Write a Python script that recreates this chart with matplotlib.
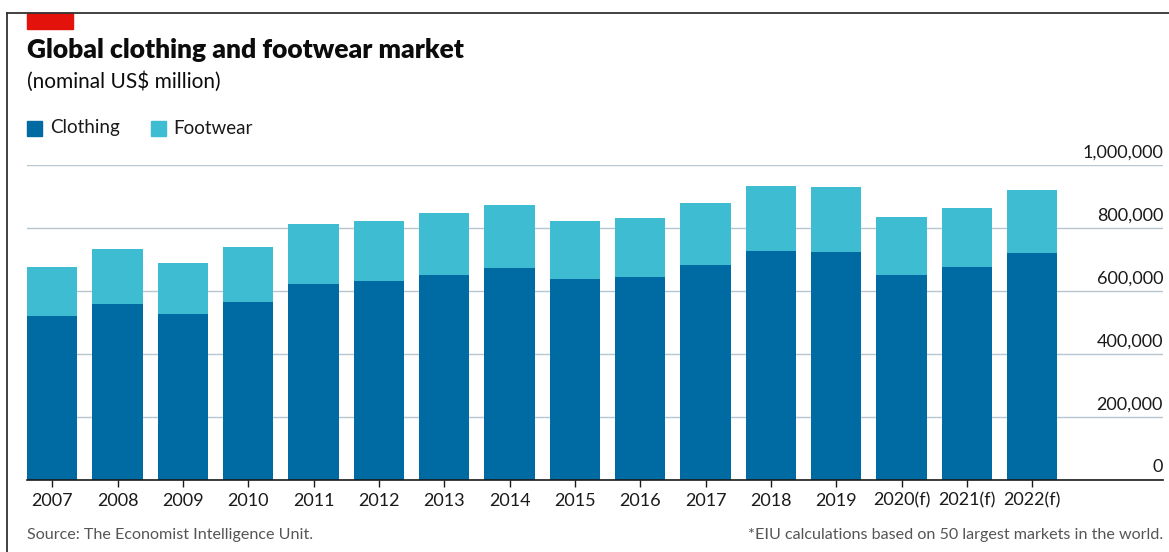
import matplotlib
matplotlib.use('Agg')
import matplotlib.pyplot as plt
from matplotlib.patches import Rectangle
from matplotlib.lines import Line2D
from matplotlib.transforms import blended_transform_factory

plt.rcParams['font.family'] = ['Lato', 'DejaVu Sans']

# Data (nominal US$ million)
years = ['2007', '2008', '2009', '2010', '2011', '2012', '2013', '2014',
         '2015', '2016', '2017', '2018', '2019', '2020(f)', '2021(f)', '2022(f)']
clothing = [521000, 559000, 528000, 566000, 623000, 632000, 651000, 673000,
            638000, 646000, 683000, 727000, 725000, 651000, 675000, 721000]
totals = [677000, 732000, 690000, 740000, 814000, 822000, 848000, 873000,
          822000, 833000, 880000, 933000, 931000, 834000, 863000, 920000]
footwear = [t - c for t, c in zip(totals, clothing)]
y_ticks = [0, 200000, 400000, 600000, 800000, 1000000]

c_cloth = '#006BA2'
c_foot = '#3EBCD2'

W, H = 1169, 552
fig = plt.figure(figsize=(W / 100, H / 100), dpi=100)

# axes placed in pixel terms
left, right, top, bottom = 27, 1163, 165, 480
ax = fig.add_axes([left / W, 1 - bottom / H, (right - left) / W, (bottom - top) / H])

x = range(len(years))
ax.bar(x, clothing, width=0.77, color=c_cloth, zorder=2)
ax.bar(x, footwear, width=0.77, bottom=clothing, color=c_foot, zorder=2)

ax.set_xlim(-0.385, 17.0)
ax.set_ylim(0, 1000000)

for s in ['top', 'right', 'left']:
    ax.spines[s].set_visible(False)
ax.spines['bottom'].set_color('#1a1a1a')
ax.spines['bottom'].set_linewidth(1.2)
ax.spines['bottom'].set_zorder(3)

ax.set_yticks(y_ticks)
ax.yaxis.grid(True, color='#B7C6CF', linewidth=1.0, zorder=0)
ax.tick_params(axis='y', length=0, labelleft=False)
ax.set_axisbelow(True)

ax.set_xticks(list(x))
ax.set_xticklabels(years, fontsize=13, color='#1a1a1a')
ax.tick_params(axis='x', length=5, width=1, color='#1a1a1a', pad=4)

trans = blended_transform_factory(ax.transAxes, ax.transData)
for v in y_ticks:
    ax.text(1.0, v + 15000, f'{v:,}', transform=trans, ha='right', va='bottom',
            fontsize=13, color='#1a1a1a')

# frame lines and red tag
fig.add_artist(Line2D([7 / W, 1], [1 - 13 / H, 1 - 13 / H], color='#333333', lw=1.3))
fig.add_artist(Line2D([7 / W, 7 / W], [0, 1 - 13 / H], color='#333333', lw=1.3))
fig.add_artist(Rectangle((27 / W, 1 - 29 / H), 46 / W, 16 / H, color='#E3120B',
                         transform=fig.transFigure))

fig.text(27 / W, 1 - 50 / H, 'Global clothing and footwear market', fontsize=19,
         fontweight='heavy', color='#0C0C0C', va='center')
fig.text(27 / W, 1 - 82 / H, '(nominal US$ million)', fontsize=15,
         color='#0C0C0C', va='center')

# legend
fig.add_artist(Rectangle((27 / W, 1 - 136 / H), 15 / W, 15 / H, color=c_cloth,
                         transform=fig.transFigure))
fig.text(50 / W, 1 - 128 / H, 'Clothing', fontsize=13.5, color='#1a1a1a', va='center')
fig.add_artist(Rectangle((151 / W, 1 - 136 / H), 15 / W, 15 / H, color=c_foot,
                         transform=fig.transFigure))
fig.text(173 / W, 1 - 128 / H, 'Footwear', fontsize=13.5, color='#1a1a1a', va='center')

# footnotes
fig.text(27 / W, 1 - 535 / H, 'Source: The Economist Intelligence Unit.', fontsize=11.6,
         color='#555555', va='center')
fig.text(1163 / W, 1 - 535 / H, '*EIU calculations based on 50 largest markets in the world.',
         fontsize=11.6, color='#555555', va='center', ha='right')

fig.savefig('out.png', dpi=100)
